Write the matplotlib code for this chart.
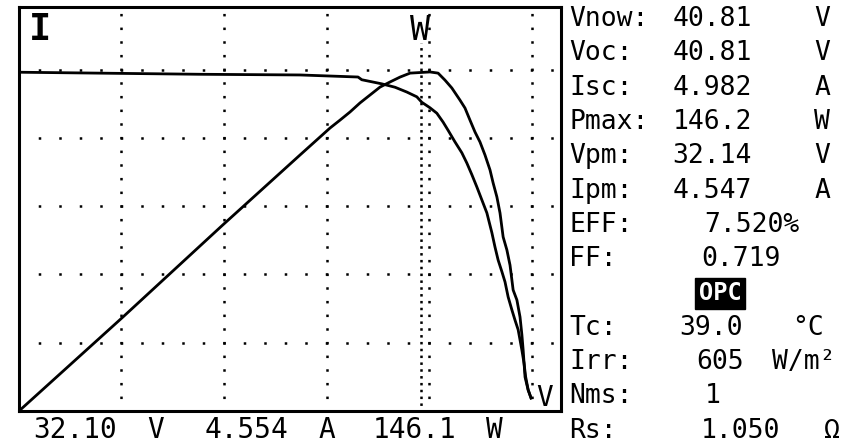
import matplotlib
matplotlib.use("Agg")
import matplotlib.pyplot as plt

plt.rcParams['lines.scale_dashes'] = False

# I-V / P-V sweep
volt_i = [0.0, 14.47, 22.46, 27.1, 27.4, 29.0, 30.06, 31.0, 31.8, 32.2, 32.85,
          33.4, 33.9, 34.3, 34.85, 35.4, 35.8, 36.2, 36.6, 37.0, 37.4, 37.8,
          38.05, 38.3, 38.6, 38.85, 39.1, 39.4, 39.65, 39.9, 40.2, 40.37,
          40.5, 40.7, 40.93]
curr = [4.96, 4.93, 4.92, 4.89, 4.85, 4.79, 4.74, 4.67, 4.60, 4.52, 4.44,
        4.36, 4.23, 4.11, 3.94, 3.78, 3.63, 3.46, 3.28, 3.09, 2.90, 2.61,
        2.40, 2.21, 2.04, 1.89, 1.67, 1.48, 1.33, 1.19, 0.89, 0.70,
        0.50, 0.31, 0.19]

volt_p = [0.0, 8.31, 16.3, 22.46, 24.86, 25.66, 26.46, 27.26, 28.06, 28.86,
          29.66, 30.46, 31.26, 32.85, 33.5, 34.05, 34.6, 35.25, 35.65, 36.05,
          36.45, 36.85, 37.25, 37.65, 37.9, 38.2, 38.45, 38.7, 39.0, 39.25,
          39.4, 39.5, 39.8, 40.05, 40.2, 40.3, 40.45, 40.7, 40.93]
power = [0.0, 40.4, 80.0, 110.0, 121.6, 125.0, 128.5, 132.4, 135.8, 139.2,
         141.4, 143.5, 145.2, 145.7, 145.2, 142.2, 138.8, 133.6, 130.2, 125.0,
         119.9, 115.6, 110.0, 103.6, 98.0, 92.0, 85.1, 74.8, 69.2, 62.7,
         56.3, 52.0, 47.7, 40.4, 32.7, 26.2, 14.6, 9.0, 5.6]

cursor_v = 32.10
cursor_txt = ["32.10", "V", "4.554", "A", "146.1", "W"]

labels = ["Vnow:", "Voc:", "Isc:", "Pmax:", "Vpm:", "Ipm:", "EFF:", "FF:",
          "", "Tc:", "Irr:", "Nms:", "Rs:"]
values = ["40.81", "40.81", "4.982", "146.2", "32.14", "4.547", "7.520%",
          "0.719", "OPC", "39.0", "605", "1", "1.050"]
units = ["V", "V", "A", "W", "V", "A", "", "", "", "°C", "W/m²", "", "Ω"]

# ---------------------------------------------------------------------- #
# layout, in screen pixels
# ---------------------------------------------------------------------- #
W_PX, H_PX = 850, 446
BOX_L, BOX_R, BOX_T, BOX_B = 19, 561, 7, 411
PX_PER_V = 12.51
PX_PER_A = 68.3
PX_PER_W = 2.327
MONO = 'DejaVu Sans Mono'

fig = plt.figure(figsize=(W_PX / 100, H_PX / 100), dpi=100)
fig.patch.set_facecolor('white')

ax = fig.add_axes([BOX_L / W_PX, 1 - BOX_B / H_PX,
                   (BOX_R - BOX_L) / W_PX, (BOX_B - BOX_T) / H_PX])
ax.set_xlim(0, (BOX_R - BOX_L) / PX_PER_V)
ax.set_ylim(0, (BOX_B - BOX_T) / PX_PER_A)

gx = 102.5 / PX_PER_V
ax.set_xticks([gx * k for k in range(1, 6)])
ax.set_yticks([1, 2, 3, 4, 5])
ax.tick_params(length=0, labelbottom=False, labelleft=False)
ax.set_axisbelow(True)
ax.xaxis.grid(True, color='black', lw=1.8, linestyle=(0.9, (1.8, 8.04)))
ax.yaxis.grid(True, color='black', lw=1.8, linestyle=(0.9, (1.8, 12.96)))
for sp in ax.spines.values():
    sp.set_linewidth(2.2)

# cursor
ax.axvline(cursor_v, ymax=(BOX_B - 43) / (BOX_B - BOX_T), color='black',
           lw=1.8, linestyle=(0.9, (1.8, 3.12)))

ax.plot(volt_i, curr, color='black', lw=2.0, zorder=4)

ax2 = ax.twinx()
ax2.set_ylim(0, (BOX_B - BOX_T) / PX_PER_W)
ax2.set_yticks([])
for sp in ax2.spines.values():
    sp.set_visible(False)
ax2.plot(volt_p, power, color='black', lw=2.0, zorder=4)


def ftxt(x, y, s, size, **kw):
    # x centre, y baseline in screen pixels
    return fig.text(x / W_PX, 1 - y / H_PX, s, ha='center', va='baseline',
                    family=MONO, fontsize=size, **kw)


ftxt(40, 40, "I", 26.5, fontweight='bold')
ftxt(420, 40, "W", 24)
ftxt(545, 406, "V", 20)

# cursor readout under the plot
bot_x = [75, 156, 246, 327, 415, 494]
for x, s in zip(bot_x, cursor_txt):
    ftxt(x, 438, s, 20)

# parameter panel
val_x = [712, 712, 712, 712, 712, 712, 752, 741, 720, 711, 720, 713, 740]
unit_x = [822, 822, 822, 822, 822, 822, 0, 0, 0, 808, 804, 0, 832]
for i, (lab, val, un) in enumerate(zip(labels, values, units)):
    base = 26 + 34.3 * i
    if lab:
        fig.text(569 / W_PX, 1 - base / H_PX, lab, ha='left', va='baseline',
                 family=MONO, fontsize=19)
    if val == "OPC":
        ftxt(val_x[i], base, val, 17, color='white', fontweight='bold',
             bbox=dict(facecolor='black', edgecolor='black', pad=2.5))
    else:
        ftxt(val_x[i], base, val, 19)
    if un:
        ftxt(unit_x[i], base, un, 19)

fig.savefig("out.png", dpi=100, facecolor='white')
